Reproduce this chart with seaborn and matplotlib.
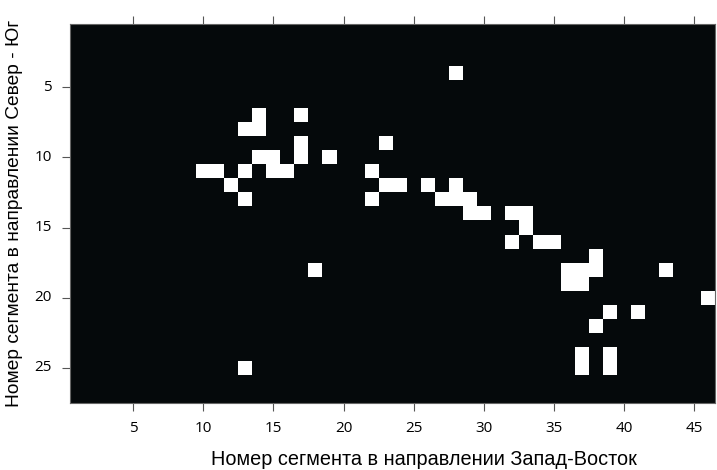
import numpy as np
import pandas as pd
import matplotlib
matplotlib.use("Agg")
import matplotlib.pyplot as plt
from matplotlib.colors import ListedColormap
import seaborn as sns

# grid size (segments)
n_cols = 46  # West-East
n_rows = 27  # North-South

# occupied segments: column (West-East) and row (North-South) numbers
seg_col = [28,
           14, 17,
           13, 14,
           17, 23,
           14, 15, 17, 19,
           10, 11, 13, 15, 16, 22,
           12, 23, 24, 26, 28,
           13, 22, 27, 28, 29,
           29, 30, 32, 33,
           33,
           32, 34, 35,
           38,
           18, 36, 37, 38, 43,
           36, 37,
           46,
           39, 41,
           38,
           37, 39,
           13, 37, 39]
seg_row = [4,
           7, 7,
           8, 8,
           9, 9,
           10, 10, 10, 10,
           11, 11, 11, 11, 11, 11,
           12, 12, 12, 12, 12,
           13, 13, 13, 13, 13,
           14, 14, 14, 14,
           15,
           16, 16, 16,
           17,
           18, 18, 18, 18, 18,
           19, 19,
           20,
           21, 21,
           22,
           24, 24,
           25, 25, 25]

tick_vals = [5, 10, 15, 20, 25, 30, 35, 40, 45]
ytick_vals = [5, 10, 15, 20, 25]

grid = np.zeros((n_rows, n_cols))
for c, r in zip(seg_col, seg_row):
    grid[r - 1, c - 1] = 1
df = pd.DataFrame(grid, index=range(1, n_rows + 1), columns=range(1, n_cols + 1))

fig = plt.figure(figsize=(7.17, 4.70), dpi=100)
ax = fig.add_axes([0.0976, 0.1426, 0.9000, 0.8064])

sns.heatmap(df, ax=ax, cmap=ListedColormap(["#05090b", "#ffffff"]), cbar=False,
            vmin=0, vmax=1)

ax.set_xticks([v - 0.5 for v in tick_vals])
ax.set_xticklabels([str(v) for v in tick_vals], rotation=0,
                   fontfamily="Open Sans", fontsize=11)
ax.set_yticks([v - 0.5 for v in ytick_vals])
ax.set_yticklabels([str(v) for v in ytick_vals], rotation=0,
                   fontfamily="Open Sans", fontsize=11)
ax.tick_params(axis="both", direction="out", length=6, width=0.8, color="#555555", pad=7)
ax.tick_params(axis="x", top=True, labeltop=False)

for s in ax.spines.values():
    s.set_visible(True)
    s.set_color("#666666")
    s.set_linewidth(0.8)

ax.set_xlabel("Номер сегмента в направлении Запад-Восток", fontfamily="Liberation Sans",
              fontsize=14.3, labelpad=10)
ax.xaxis.label.set_x(0.549)
ax.set_ylabel("Номер сегмента в направлении Север - Юг", fontfamily="Liberation Sans",
              fontsize=13.8, labelpad=8)

fig.savefig("out.png", dpi=100)
